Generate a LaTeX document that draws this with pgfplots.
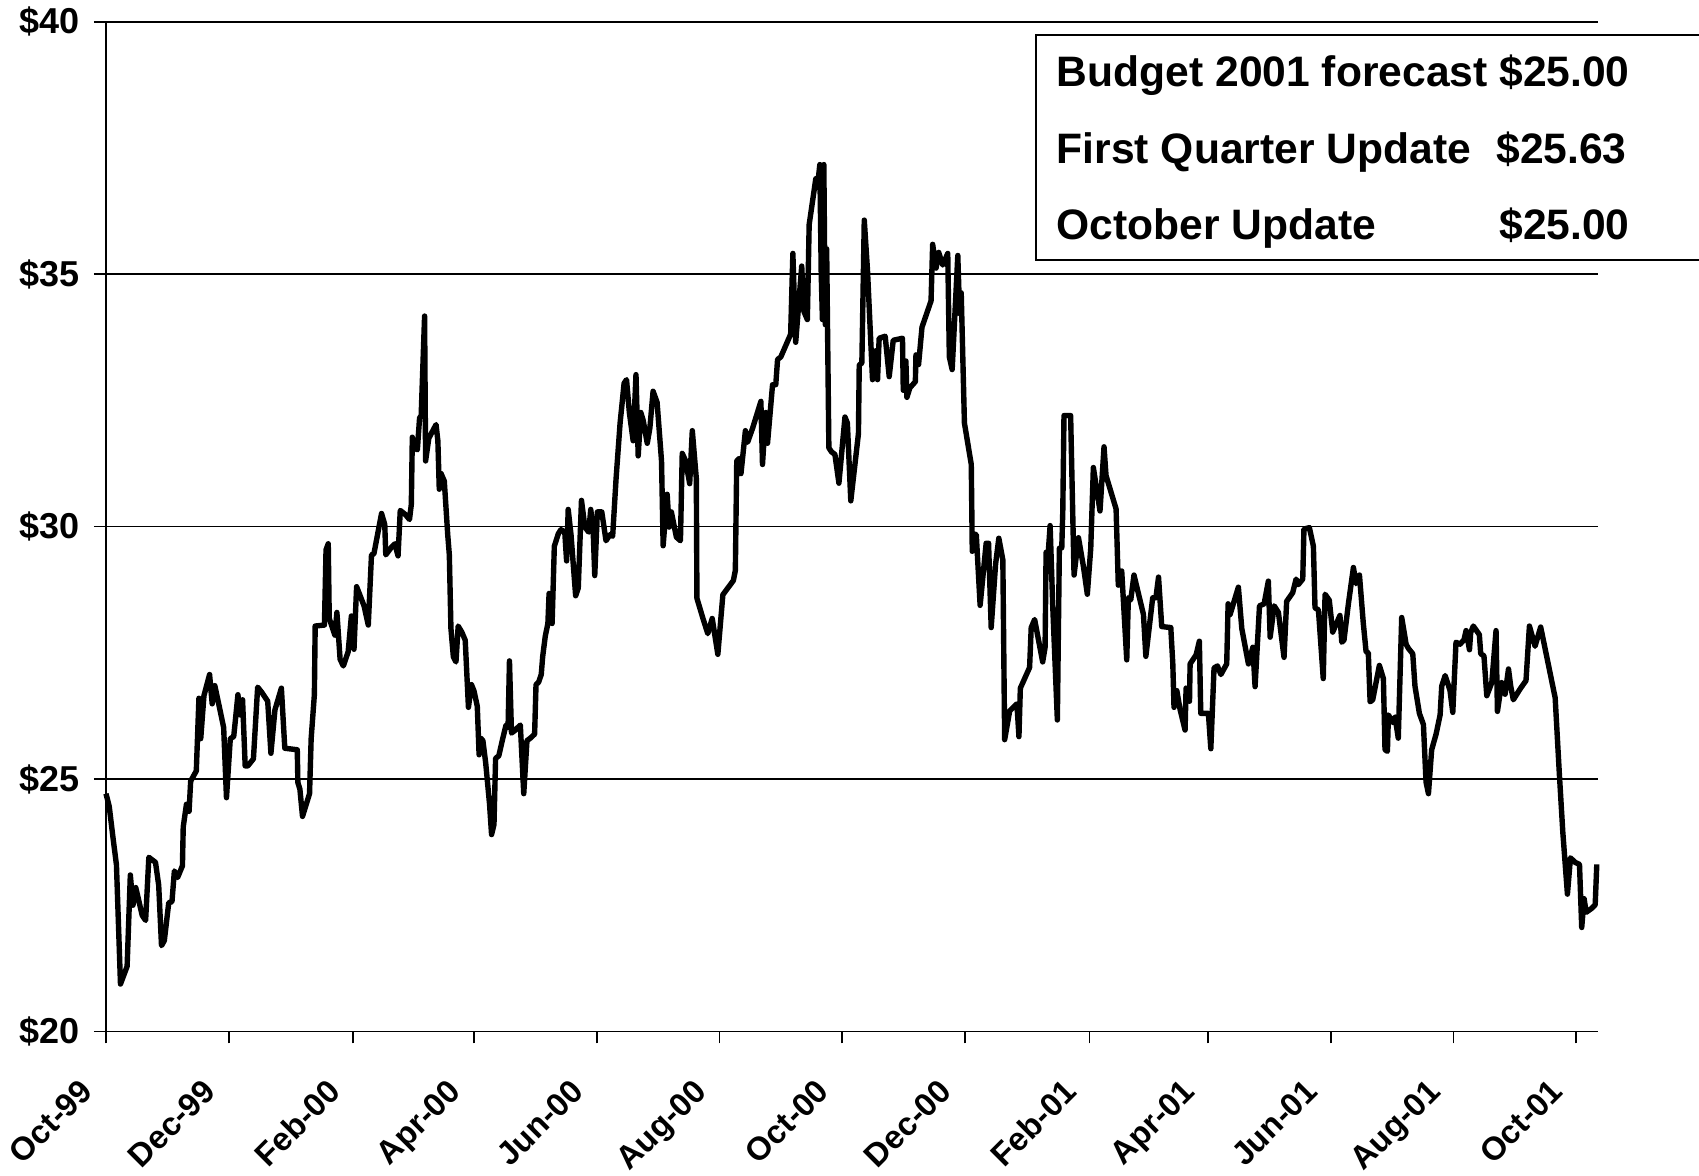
\documentclass[border=0pt]{standalone}
\usepackage{fontspec}
\setmainfont{Liberation Sans}
\usepackage{pgfplots}
\pgfplotsset{compat=1.18}
\pgfplotstableread{
d v
0 24.71
1.6 24.46
3.6 23.8
5.2 23.3
7.2 20.94
10.5 21.29
12.1 23.1
13.4 22.5
14.8 22.85
18 22.3
19.7 22.2
21.3 23.45
24.6 23.35
26.2 22.9
27.6 21.7
29 21.8
31.2 22.55
32.8 22.57
34 23.18
35.6 23.05
38 23.28
38.4 24.05
40 24.5
41.3 24.36
42.1 24.96
44.9 25.16
46.2 26.6
47.1 25.8
48.7 26.65
51.5 27.07
52.8 26.49
54.1 26.85
56.4 26.42
58.5 26.02
59.9 24.63
61.8 25.8
63.5 25.84
65.6 26.67
66.7 26.27
67.9 26.57
69.2 25.26
70.5 25.26
73.3 25.4
75.4 26.82
77.4 26.72
80.4 26.54
82 25.51
84 26.37
87.2 26.8
88.9 25.61
95.1 25.58
95.4 24.93
96.4 24.8
97.7 24.26
101.2 24.71
102 25.8
103.6 26.67
104 28.03
108.6 28.05
109.4 29.54
110.5 29.66
111 28.18
113.8 27.85
114.8 28.3
116.4 27.37
118 27.24
120.4 27.52
122 28.23
123.3 27.57
124.6 28.81
128.3 28.43
130.4 28.05
132 29.44
133.2 29.46
137 30.26
138.6 30.04
139.1 29.44
141.9 29.59
143.6 29.66
145.2 29.42
146.3 30.32
148.8 30.24
150.9 30.14
151.8 30.44
152.3 31.77
153.5 31.55
154.8 31.52
155.9 32.15
156.7 32.2
158.4 34.17
158.9 31.3
160.5 31.75
164.1 32.02
165 31.7
165.7 30.74
166.6 31.05
168.2 30.9
169.9 29.84
170.7 29.44
171.5 27.98
172.7 27.42
174 27.32
175.1 28.03
176.9 27.91
178.6 27.75
180.2 26.42
181.7 26.87
183 26.74
184.6 26.44
185.5 25.48
186.3 25.81
187.4 25.76
188.8 25.31
190.7 24.5
191.7 23.9
192.9 24.1
193.7 25.41
195.3 25.46
197.3 25.81
198.9 26.07
199.9 26.02
200.6 27.34
201.6 25.91
203.2 25.96
206 26.07
207.7 24.71
209.3 25.76
211 25.81
213.1 25.89
213.8 26.87
215.1 26.92
216.4 27.07
217.1 27.42
218.4 27.83
219.7 28.08
220.3 28.68
221.3 28.65
221.8 28.08
222.9 29.61
224.9 29.86
226.2 29.94
228.1 29.89
229 29.32
229.8 30.34
231.2 29.84
233.5 28.63
234.8 28.78
236.4 30.52
238.1 29.99
240 29.89
241 30.34
242.2 29.94
243 29.03
244.3 30.29
246.5 30.29
248.6 29.72
250.6 29.84
251.9 29.81
253.6 30.95
255.6 32.05
257.6 32.84
258.8 32.91
260.2 32.26
262.1 31.7
263.5 33.01
264.6 31.4
265.9 32.26
267.1 32.1
269.1 31.65
270.4 31.95
272 32.68
274 32.46
276.2 31.3
277 29.62
279 30.64
280 29.99
281.1 30.29
283.6 29.79
285.6 29.72
286.5 31.45
288.2 31.3
290.2 30.85
291.5 31.9
293.5 30.95
293.8 28.58
296.8 28.18
299.2 27.88
301.4 28.18
304.2 27.47
306.7 28.65
309.1 28.78
311.9 28.93
312.9 29.13
313.6 31.3
314.8 31.35
315.7 31.05
317.9 31.9
319 31.67
321.5 31.95
325.6 32.48
326.4 31.23
328 32.26
328.9 31.65
331.4 32.81
333 32.81
333.9 33.31
335.5 33.36
340.4 33.81
341.5 35.41
342.9 33.65
345.9 35.16
347 34.26
348.7 34.1
349.6 35.98
352.9 36.89
353.7 36.72
354.9 37.17
355.6 35.0
356.2 34.1
356.9 37.17
357.6 34.0
358.3 35.5
359.4 31.56
360.7 31.48
362.4 31.43
364.4 30.86
367.4 32.17
368.6 32.05
370.3 30.51
374.1 31.84
374.5 33.2
375.8 33.24
377 36.07
378.6 35.08
381.1 32.91
382.5 33.48
383.6 32.91
384.4 33.73
387.4 33.77
389.4 32.97
391.4 33.69
396 33.73
396.4 32.7
397.7 33.28
398.2 32.56
399.7 32.75
402.4 32.87
402.7 33.4
404 33.21
405.7 33.95
410.2 34.47
411 35.59
412.7 35.12
414 35.43
416 35.18
418.5 35.41
419.3 33.36
420.7 33.11
423.5 35.37
424.4 34.22
425.2 34.63
426.8 32.05
430.2 31.23
430.7 29.51
431.8 29.85
432.7 29.84
434.6 28.44
437.6 29.67
438.8 29.67
440.1 28.0
442.3 29.26
443.9 29.77
445.9 29.34
446.8 25.78
449.3 26.35
452.9 26.49
453.9 25.84
454.6 26.8
459.2 27.21
460 28.0
461.7 28.16
465.7 27.32
466.9 27.61
467.4 29.49
468.5 29.5
469.4 30.02
470.7 28.43
473 26.17
474 29.57
475.2 29.58
475.7 30.31
476.3 32.2
479.6 32.2
481.3 29.04
483.5 29.78
486 29.2
487.9 28.66
489.6 29.57
490.9 31.17
494.2 30.31
496.2 31.58
497.2 31.01
502.2 30.35
503.3 28.84
505 29.12
507.5 27.36
508.3 28.59
509.5 28.55
511.1 29.04
515.8 28.26
517 27.43
520.4 28.59
522 28.59
523.3 29.0
524.9 28.02
529.4 28.0
530.4 27.28
531 26.42
532.4 26.75
534 26.38
536.5 25.97
537 26.8
538.7 26.54
539 27.28
542 27.46
543.6 27.73
544.3 26.3
548.1 26.3
549.3 25.6
550.9 27.2
552.6 27.24
554.3 27.07
557.2 27.28
557.9 28.47
558.9 28.26
563 28.8
564.7 27.98
568 27.28
570.2 27.61
571.3 26.83
573.5 28.43
575.8 28.47
577.9 28.92
578.8 27.81
580.8 28.43
582.9 28.3
585.7 27.41
587 28.52
590 28.69
591.7 28.96
592.8 28.85
595 28.96
595.6 29.95
598.3 29.98
600.3 29.61
601.1 28.39
602.8 28.35
605.2 26.99
606.1 28.66
608.2 28.54
609.9 27.91
611 28.01
613.5 28.24
614.4 27.71
615.5 27.75
617.7 28.47
620.2 29.19
621.5 28.87
623.2 29.04
625.1 28.09
626.5 27.52
627.6 27.5
628.5 26.53
629.8 26.57
633.1 27.25
635.1 26.99
635.9 25.58
637.1 25.55
637.6 26.27
639.7 26.12
640.9 26.23
642.5 25.81
644.2 28.2
646.4 27.67
647.5 27.59
649.7 27.48
650.8 26.84
653 26.3
655 26.08
656.3 24.94
657.5 24.71
659.1 25.58
661.3 25.89
663.3 26.27
664.1 26.84
665.8 27.05
668.2 26.76
669.6 26.32
671.2 27.71
673.2 27.67
675.2 27.76
676.2 27.94
677.9 27.56
678.5 27.9
679.8 28.03
682.8 27.86
683.5 27.48
685.1 27.44
686.5 26.65
689 26.91
691.1 27.94
691.8 26.34
693.9 26.91
695.6 26.68
697.3 27.18
698.4 26.84
699.7 26.57
703 26.78
706 26.95
707.7 28.03
710.5 27.63
713.3 28.01
720.5 26.61
722.6 25.09
724.3 23.95
726.6 22.72
728.1 23.44
730.4 23.35
732.6 23.31
733.7 22.06
734.9 22.63
735.9 22.36
738.7 22.44
740.4 22.51
741.2 23.31
}\prices
\begin{document}
\begin{tikzpicture}
\begin{axis}[
  at={(0,0)}, anchor=south west,
  scale only axis,
  width=746pt, height=504.9pt,
  xmin=0, xmax=741.8, ymin=20, ymax=40,
  clip=false,
  axis x line*=bottom, axis y line*=left,
  axis line style={black, line width=0.9pt},
  ytick={20,25,30,35,40},
  yticklabels={\$20,\$25,\$30,\$35,\$40},
  ymajorgrids,
  grid style={black, line width=0.9pt},
  xtick={0,61,123,183,244,305,366,427,489,548,609,670,731},
  xticklabels={Oct-99,Dec-99,Feb-00,Apr-00,Jun-00,Aug-00,Oct-00,Dec-00,Feb-01,Apr-01,Jun-01,Aug-01,Oct-01},
  tick align=outside,
  major tick length=6pt,
  tick style={black, line width=0.9pt},
  /pgf/number format/assume math mode=true,
  yticklabel style={font=\fontsize{18}{20}\selectfont\bfseries, anchor=east, inner sep=0pt, xshift=-7pt},
  xticklabel style={font=\fontsize{16.3}{18}\selectfont\bfseries, inner sep=0pt, shift={(-13.8pt,-16.7pt)}, rotate=45, anchor=north east},
]
\addplot[black, line width=2.7pt, line join=round, no markers] table[x=d, y=v] {\prices};
\end{axis}
\draw[black, line width=0.9pt, fill=white] (796.5pt,498.4pt) -- (465pt,498.4pt) -- (465pt,385.75pt) -- (796.5pt,385.75pt);
\begin{scope}[every node/.style={inner sep=0pt, font=\fontsize{21.3}{23}\selectfont\bfseries}]
\node[anchor=base west] at (475.2pt,472.4pt) {Budget 2001 forecast};
\node[anchor=base west] at (696.5pt,472.4pt) {\$25.00};
\node[anchor=base west] at (475.2pt,434.1pt) {First Quarter Update};
\node[anchor=base west] at (695pt,434.1pt) {\$25.63};
\node[anchor=base west] at (475.2pt,395.75pt) {October Update};
\node[anchor=base west] at (696.5pt,395.75pt) {\$25.00};
\end{scope}
\pgfresetboundingbox
\path (-53pt,-72.25pt) rectangle (796.5pt,515.75pt);
\end{tikzpicture}
\end{document}
